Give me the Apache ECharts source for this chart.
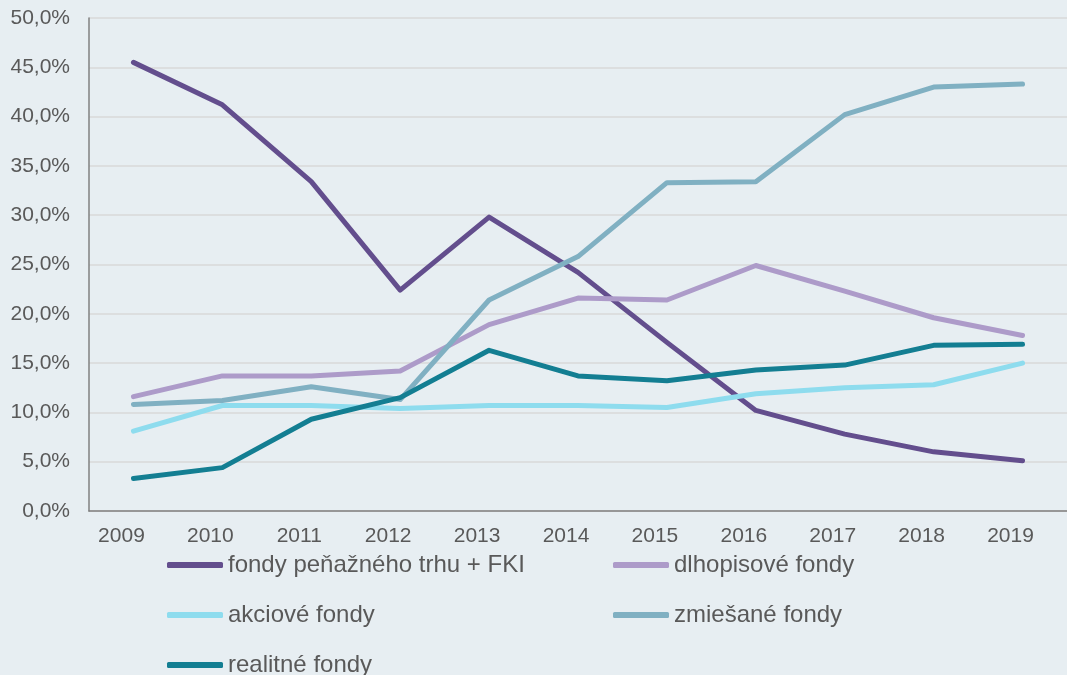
<!DOCTYPE html>
<html>
<head>
<meta charset="utf-8">
<script src="https://cdn.jsdelivr.net/npm/echarts@6/dist/echarts.min.js"></script>
<style>
  html, body { margin: 0; padding: 0; background: #e7eef2; }
  #main { width: 1067px; height: 675px; }
</style>
</head>
<body>
<div id="main"></div>
<script>
// roky
const years = ['2009', '2010', '2011', '2012', '2013', '2014', '2015', '2016', '2017', '2018', '2019'];

// podiely v %
const penazneFKI = [45.5, 41.2, 33.4, 22.4, 29.8, 24.2, 17.1, 10.2, 7.8, 6.0, 5.1];
const dlhopisove = [11.6, 13.7, 13.7, 14.2, 18.9, 21.6, 21.4, 24.9, 22.3, 19.6, 17.8];
const akciove = [8.1, 10.7, 10.7, 10.4, 10.7, 10.7, 10.5, 11.9, 12.5, 12.8, 15.0];
const zmiesane = [10.8, 11.2, 12.6, 11.3, 21.4, 25.8, 33.3, 33.4, 40.2, 43.0, 43.3];
const realitne = [3.3, 4.4, 9.3, 11.5, 16.3, 13.7, 13.2, 14.3, 14.8, 16.8, 16.9];

const names = ['fondy peňažného trhu + FKI', 'dlhopisové fondy', 'akciové fondy', 'zmiešané fondy', 'realitné fondy'];
const colors = ['#634e8d', '#ad9bc9', '#8edcee', '#80b0c2', '#137e92'];
const values = [penazneFKI, dlhopisove, akciove, zmiesane, realitne];

const chart = echarts.init(document.getElementById('main'));

// dve legendy, aby stlpce sedeli
const legendBase = {
    orient: 'vertical',
    top: 553,
    padding: 0,
    height: 130,
    itemWidth: 56,
    itemHeight: 6,
    itemGap: 26,
    icon: 'roundRect',
    textStyle: {
        color: '#595959',
        fontSize: 24,
        lineHeight: 22,
        fontFamily: 'Liberation Sans, Arial, sans-serif'
    }
};

chart.setOption({
    backgroundColor: '#e7eef2',
    animation: false,
    color: colors,
    grid: {
        left: 89,
        right: -3,
        top: 18,
        bottom: 164
    },
    legend: [
        Object.assign({}, legendBase, { left: 167, data: [names[0], names[2], names[4]] }),
        Object.assign({}, legendBase, { left: 613, data: [names[1], names[3]] })
    ],
    xAxis: {
        type: 'category',
        data: years,
        boundaryGap: true,
        axisLine: { lineStyle: { color: '#808080', width: 1.5 } },
        axisTick: { show: false },
        axisLabel: {
            color: '#595959',
            fontSize: 21,
            margin: 15,
            padding: [0, 24, 0, 0],
            fontFamily: 'Liberation Sans, Arial, sans-serif'
        }
    },
    yAxis: {
        type: 'value',
        min: 0,
        max: 50,
        interval: 5,
        axisLine: { show: true, lineStyle: { color: '#808080', width: 1.5 } },
        axisTick: { show: false },
        splitLine: { lineStyle: { color: '#d9d9d9', width: 1.5 } },
        axisLabel: {
            color: '#595959',
            fontSize: 21,
            margin: 19,
            fontFamily: 'Liberation Sans, Arial, sans-serif',
            formatter: v => v.toFixed(1).replace('.', ',') + '%'
        }
    },
    series: names.map((n, i) => ({
        name: n,
        type: 'line',
        data: values[i],
        symbol: 'none',
        lineStyle: { width: 5, color: colors[i], cap: 'round', join: 'round' },
        itemStyle: { color: colors[i] }
    }))
});
</script>
</body>
</html>
